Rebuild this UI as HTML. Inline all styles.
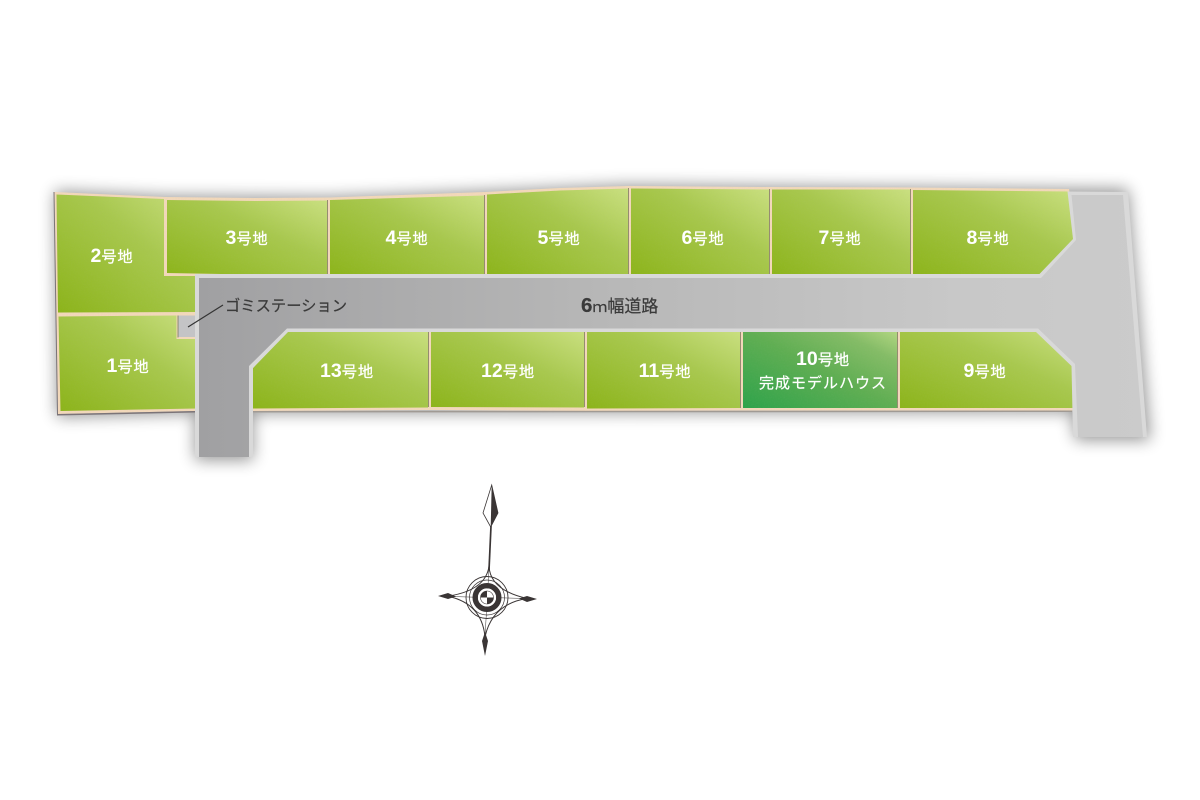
<!DOCTYPE html>
<html lang="ja">
<head>
<meta charset="utf-8">
<title>区画図</title>
<style>
html,body{margin:0;padding:0;background:#fff;width:1200px;height:800px;overflow:hidden}
svg{display:block}
text{font-family:"Liberation Sans","Noto Sans CJK JP",sans-serif}
.l{fill:#fff;stroke:#fff;stroke-width:.25px;font-size:15.3px;text-anchor:middle;letter-spacing:.8px}
.l .d{font-size:19.5px;font-weight:700;letter-spacing:0;stroke-width:0}
</style>
</head>
<body>
<svg width="1200" height="800" viewBox="0 0 1200 800" xmlns="http://www.w3.org/2000/svg">
<defs>
<linearGradient id="g" x1="0" y1="1" x2="1" y2="0">
<stop offset="0" stop-color="#8cb41a"/>
<stop offset=".6" stop-color="#a8c84e"/>
<stop offset="1" stop-color="#cae080"/>
</linearGradient>
<linearGradient id="gm" x1="0" y1="1" x2="1" y2="0">
<stop offset="0" stop-color="#2ea34a"/>
<stop offset=".5" stop-color="#5fae52"/>
<stop offset=".8" stop-color="#84bc66"/>
<stop offset="1" stop-color="#b4d882"/>
</linearGradient>
<linearGradient id="road" gradientUnits="userSpaceOnUse" x1="198" y1="0" x2="1150" y2="0">
<stop offset="0" stop-color="#a0a0a2"/>
<stop offset=".4" stop-color="#b6b6b6"/>
<stop offset=".8" stop-color="#c8c8c8"/>
<stop offset="1" stop-color="#cbcbcb"/>
</linearGradient>
<filter id="sh" x="-5%" y="-30%" width="110%" height="160%"><feGaussianBlur stdDeviation="8"/></filter>
<filter id="n" x="0" y="0" width="100%" height="100%">
<feTurbulence type="fractalNoise" baseFrequency=".7" numOctaves="2" seed="4"/>
<feColorMatrix values="0 0 0 0 .5 0 0 0 0 .5 0 0 0 0 .5 .6 0 0 0 -.22"/>
</filter>
<clipPath id="cl"><path d="M55 192 L165 197 L330 198 L485 192 L628 186 L770 187 L1069 189 L1076 240 L1076 411 L253 411 L196 411 L59 414 Z"/></clipPath>
</defs>

<!-- shadow -->
<path d="M55 191 L165 196 L330 197 L485 191 L628 185 L1128 189 L1150 440 L1075 440 L1072 412 L253 413 L253 460 L195 460 L195 413 L57 417 Z" fill="#000" opacity=".42" filter="url(#sh)"/>

<!-- base (tan border) -->
<path d="M54.500 192 L165 197 L255 198 L330 197.500 L485 192 L560 188 L628 186 L770 187 L912 187.500 L1069 189 L1076 240 L1076 410.500 L900 410.500 L741 410.500 L585 411 L430 410 L252 411 L195 411 L58 414 Z" fill="#f2d8ba"/>
<path d="M54.500 192 L58 414 L195 411 L195 412.500 L57 415.500 L53.500 192 Z" fill="#7b7478"/>
<path d="M253 411 L1072 410.500 L1072 412 L253 412.500 Z" fill="#a09a94"/>

<!-- lots -->
<g>
<path fill="url(#g)" d="M56.500 194.500 L164 199 L164 276 L197 276 L197 312 L58 312.500 Z"/>
<path fill="url(#g)" d="M58.500 316.500 L176.500 315.500 L176.500 339 L197 339 L197 408.500 L60.500 411 Z"/>
<path fill="url(#g)" d="M167 200 L255 201 L327 200.500 L327 276 L167 273 Z"/>
<path fill="url(#g)" d="M330 200 L484 195.500 L484 276 L330 276 Z"/>
<path fill="url(#g)" d="M487 194.500 L560 190.500 L628 188.500 L628 276 L487 276 Z"/>
<path fill="url(#g)" d="M631 188.500 L769 189.500 L769 276 L631 276 Z"/>
<path fill="url(#g)" d="M772 189.500 L910 189.500 L910 276 L772 276 Z"/>
<path fill="url(#g)" d="M913 190 L1068 191.500 L1076 238 L1040 276 L913 276 Z"/>
<path fill="url(#g)" d="M253 368 L288 330 L428 330 L428 407.500 L253 408.500 Z"/>
<path fill="url(#g)" d="M431 330 L584 330 L584 407.500 L431 407 Z"/>
<path fill="url(#g)" d="M587 330 L740 330 L740 408 L587 408.500 Z"/>
<path fill="url(#gm)" d="M743 330 L897 330 L897 408 L743 408 Z"/>
<path fill="url(#g)" d="M900 330 L1037 330 L1076 366 L1076 408 L900 408 Z"/>
</g>
<rect x="50" y="184" width="1030" height="232" filter="url(#n)" opacity=".16" clip-path="url(#cl)"/>

<!-- thin dark lot dividers -->
<g stroke="#6f6c52" stroke-width="1" fill="none" opacity=".7">
<path d="M327.500 200 V274"/>
<path d="M484.500 195 V274"/>
<path d="M628.500 188 V274"/>
<path d="M769.500 189 V274"/>
<path d="M910.500 189 V274"/>
<path d="M428.500 332 V407"/>
<path d="M584.500 332 V407"/>
<path d="M740.500 332 V408"/>
<path d="M897.500 332 V408"/>
</g>

<!-- garbage station -->
<path d="M176.500 315 H197 V339 H176.500 Z" fill="#f2d8ba"/>
<path d="M178 315.500 H197 V337 H178 Z" fill="#c4c4c6"/>
<path d="M178 337.500 V315.500" stroke="#77775a" stroke-width=".8" fill="none"/>

<!-- road -->
<path d="M195 274 L1039.500 274 L1073 239 L1067.500 191.500 L1128 192 L1147 437 L1073 437 L1071.500 366 L1036 332 L288 332 L253 368 L253 457 L195 457 Z" fill="#d9d9d9"/>
<path id="rd" d="M199 278 L1041 278 L1076 240 L1071.500 195 L1123 195 L1143 437 L1078 437 L1075 364 L1038 328.500 L287 328.500 L249 366 L249 457 L199 457 Z" fill="url(#road)"/>

<!-- leader -->
<line x1="188" y1="327" x2="223" y2="305" stroke="#333" stroke-width="1.2"/>
<text x="225" y="311" font-size="15.300" fill="#3a3a3a" stroke="#3a3a3a" stroke-width=".2">ゴミステーション</text>
<text x="581" y="312" font-size="17" fill="#3a3a3a" stroke="#3a3a3a" stroke-width=".2"><tspan font-size="20.500" font-weight="700">6</tspan><tspan font-size="15">ｍ</tspan><tspan dx="0">幅道路</tspan></text>

<!-- lot labels -->
<text class="l" x="112" y="262"><tspan class="d">2</tspan>号地</text>
<text class="l" x="128" y="372"><tspan class="d">1</tspan>号地</text>
<text class="l" x="247" y="244"><tspan class="d">3</tspan>号地</text>
<text class="l" x="407" y="244"><tspan class="d">4</tspan>号地</text>
<text class="l" x="559" y="244"><tspan class="d">5</tspan>号地</text>
<text class="l" x="703" y="244"><tspan class="d">6</tspan>号地</text>
<text class="l" x="840" y="244"><tspan class="d">7</tspan>号地</text>
<text class="l" x="988" y="244"><tspan class="d">8</tspan>号地</text>
<text class="l" x="347" y="377"><tspan class="d">13</tspan>号地</text>
<text class="l" x="508" y="377"><tspan class="d">12</tspan>号地</text>
<text class="l" x="665" y="377"><tspan class="d">11</tspan>号地</text>
<text class="l" x="823" y="365"><tspan class="d">10</tspan>号地</text>
<text x="823" y="388" fill="#fff" stroke="#fff" stroke-width=".2" font-size="15" text-anchor="middle" letter-spacing="1">完成モデルハウス</text>
<text class="l" x="985" y="377"><tspan class="d">9</tspan>号地</text>

<!-- compass -->
<g fill="none" stroke="#3a3535">
<circle cx="487" cy="597.500" r="21" stroke-width=".9"/>
<circle cx="487" cy="597.500" r="17.500" stroke-width=".7"/>
<circle cx="487" cy="597.500" r="11.800" stroke-width="5.400"/>
<path d="M489 566 Q486 590 449 596" stroke-width="1"/>
<path d="M489 566 Q490 590 527 598.500" stroke-width="1"/>
<path d="M449 596.500 Q482 604 485 637" stroke-width="1"/>
<path d="M527 598.500 Q492 604 485 637" stroke-width="1"/>
<path d="M449 596.500 L527 598.500 M489 568 L485 637" stroke-width=".5"/>
<path d="M491 526 L489 570" stroke-width="1.700"/>
</g>
<circle cx="487" cy="597.500" r="9" fill="#fff"/>
<circle cx="487" cy="597.500" r="6.500" fill="#fff" stroke="#3a3535" stroke-width=".6"/>
<path d="M487 591 A6.500 6.500 0 0 0 480.500 597.500 H487 Z M487 597.500 V604 A6.500 6.500 0 0 0 493.500 597.500 Z" fill="#3a3535"/>
<path d="M491.700 485 L498 513 L490.700 527 L483 513 Z" fill="#fff" stroke="#3a3535" stroke-width=".8"/>
<path d="M491.700 485 L498 513 L490.700 527 Z" fill="#3a3535"/>
<path d="M485 656 L488 641 L485 632 L482 641 Z" fill="#3a3535"/>
<path d="M438 596 L448 593 L456 596.500 L448 599 Z" fill="#3a3535"/>
<path d="M537 599 L527 596 L519 598.500 L527 602 Z" fill="#3a3535"/>
</svg>
</body>
</html>
